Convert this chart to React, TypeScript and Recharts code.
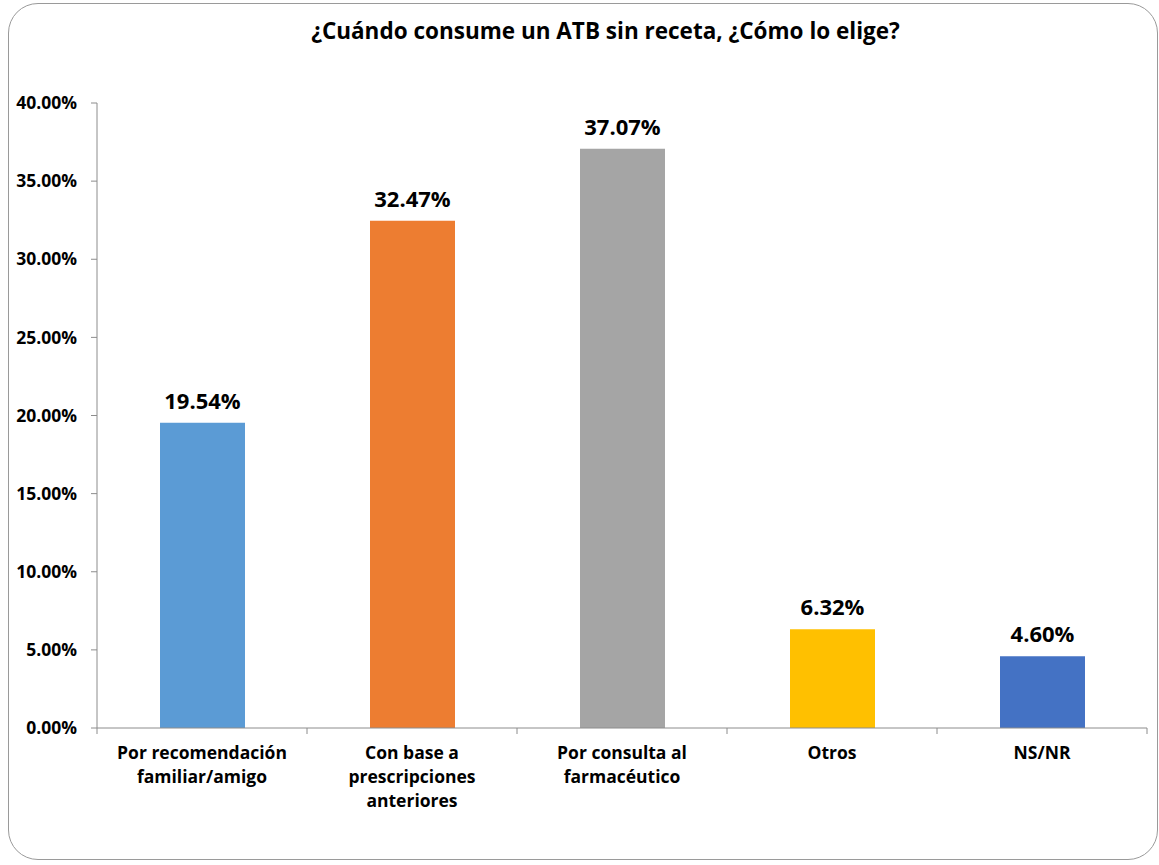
import React from 'react'
import { BarChart, Bar, XAxis, YAxis, Cell, LabelList } from 'recharts'

const categories = [
  'Por recomendación\nfamiliar/amigo',
  'Con base a\nprescripciones\nanteriores',
  'Por consulta al\nfarmacéutico',
  'Otros',
  'NS/NR',
]
const values = [19.54, 32.47, 37.07, 6.32, 4.6]
const colors = ['#5B9BD5', '#ED7D31', '#A5A5A5', '#FFC000', '#4472C4']
const yTicks = [0, 5, 10, 15, 20, 25, 30, 35, 40]

const W = 1159
const H = 865
const margin = { top: 103, right: 12, bottom: 77, left: 0 }
const Y_W = 97
const FONT = '"Open Sans", Calibri, sans-serif'
const AXIS = '#8c8c8c'

const band = (W - margin.left - margin.right - Y_W) / categories.length

const CatTick = (props: any) => {
  const { x, y, payload, index } = props
  const lines = String(payload.value).split('\n')
  return (
    <g>
      <line x1={x - band / 2} x2={x - band / 2} y1={y - 8} y2={y - 2} stroke={AXIS} />
      {index === categories.length - 1 && (
        <line x1={x + band / 2} x2={x + band / 2} y1={y - 8} y2={y - 2} stroke={AXIS} />
      )}
      <text x={x} y={y + 23} textAnchor="middle" fontFamily={FONT} fontWeight={700} fontSize={17.5} fill="#000">
        {lines.map((l, i) => (
          <tspan key={i} x={x} dy={i === 0 ? 0 : 24}>
            {l}
          </tspan>
        ))}
      </text>
    </g>
  )
}

export default function App() {
  const data = categories.map((name, i) => ({ name, value: values[i] }))
  return (
    <div style={{ position: 'absolute', left: 0, top: 0, width: W, height: H, background: '#fff' }}>
      <div
        style={{
          position: 'absolute',
          left: 8,
          top: 3,
          width: 1148,
          height: 855,
          border: '1.5px solid #9a9a9a',
          borderRadius: 30,
        }}
      />
      <div
        style={{
          position: 'absolute',
          top: 15,
          left: 26,
          width: W,
          textAlign: 'center',
          fontFamily: FONT,
          fontWeight: 700,
          fontSize: 22.5,
          color: '#000',
        }}
      >
        ¿Cuándo consume un ATB sin receta, ¿Cómo lo elige?
      </div>
      <BarChart width={W} height={H} data={data} margin={margin} barSize={85}>
        <XAxis
          dataKey="name"
          interval={0}
          height={60}
          stroke={AXIS}
          tickLine={false}
          tick={<CatTick />}
        />
        <YAxis
          width={Y_W}
          domain={[0, 40]}
          ticks={yTicks}
          stroke={AXIS}
          tickSize={6}
          tickMargin={14}
          tickFormatter={(v: number) => `${v.toFixed(2)}%`}
          tick={{ fill: '#000', fontSize: 17.5, fontWeight: 700, fontFamily: FONT }}
        />
        <Bar dataKey="value" isAnimationActive={false}>
          {data.map((d, i) => (
            <Cell key={`cell-${i}`} fill={colors[i]} />
          ))}
          <LabelList
            dataKey="value"
            position="top"
            offset={14}
            formatter={(v: any) => `${Number(v).toFixed(2)}%`}
            style={{ fill: '#000', fontSize: 22, fontWeight: 700, fontFamily: FONT }}
          />
        </Bar>
      </BarChart>
    </div>
  )
}
